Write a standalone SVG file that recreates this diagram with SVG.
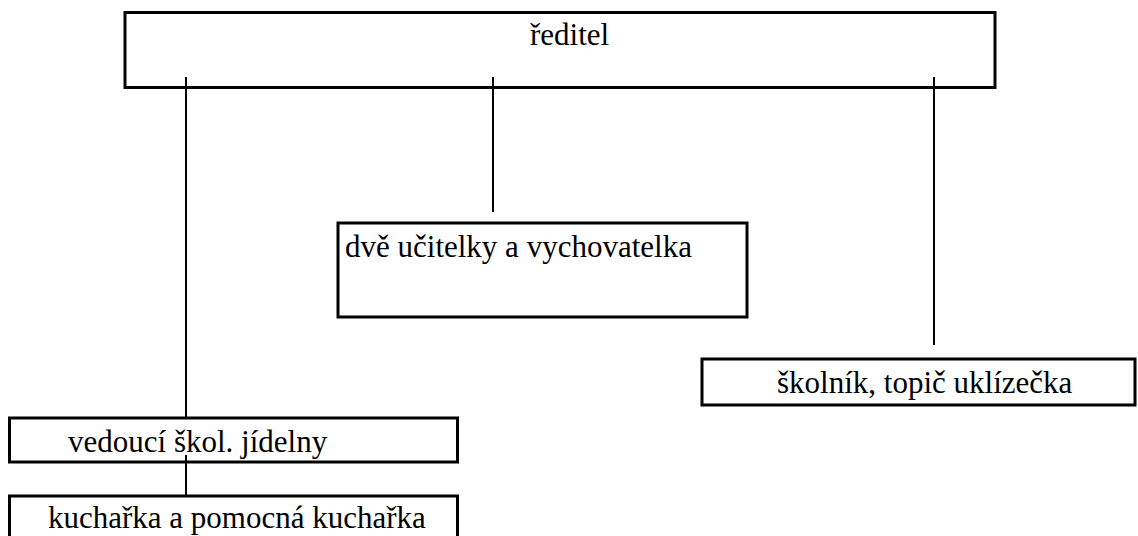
<svg xmlns="http://www.w3.org/2000/svg" width="1138" height="536" viewBox="0 0 1138 536">
<style>
.box{fill:#fff;stroke:#000;stroke-width:3}
.lbl{font-family:"Liberation Serif","Times New Roman",serif;font-size:31px;fill:#000}
.con{stroke:#000;stroke-width:2;fill:none}
</style>
<rect width="1138" height="536" fill="#fff"/>
<g id="node-reditel">
<rect class="box" x="125" y="12.5" width="870" height="75"/>
<text class="lbl" x="530" y="45">ředitel</text>
</g>
<g id="node-ucitelky">
<rect class="box" x="338" y="223" width="409" height="94"/>
<text class="lbl" x="345" y="257">dvě učitelky a vychovatelka</text>
</g>
<g id="node-skolnik">
<rect class="box" x="702" y="359" width="433" height="46"/>
<text class="lbl" x="777" y="393">školník, topič uklízečka</text>
</g>
<g id="node-vedouci">
<rect class="box" x="9.5" y="418" width="448" height="44"/>
<text class="lbl" x="68" y="452">vedoucí škol. jídelny</text>
</g>
<g id="node-kucharka">
<rect class="box" x="9.5" y="496" width="448" height="60"/>
<text class="lbl" x="48" y="528">kuchařka a pomocná kuchařka</text>
</g>
<g id="connectors">
<line class="con" x1="186" y1="77" x2="186" y2="418"/>
<line class="con" x1="186" y1="455" x2="186" y2="496"/>
<line class="con" x1="493" y1="77" x2="493" y2="212"/>
<line class="con" x1="934" y1="77" x2="934" y2="345"/>
</g>
</svg>
